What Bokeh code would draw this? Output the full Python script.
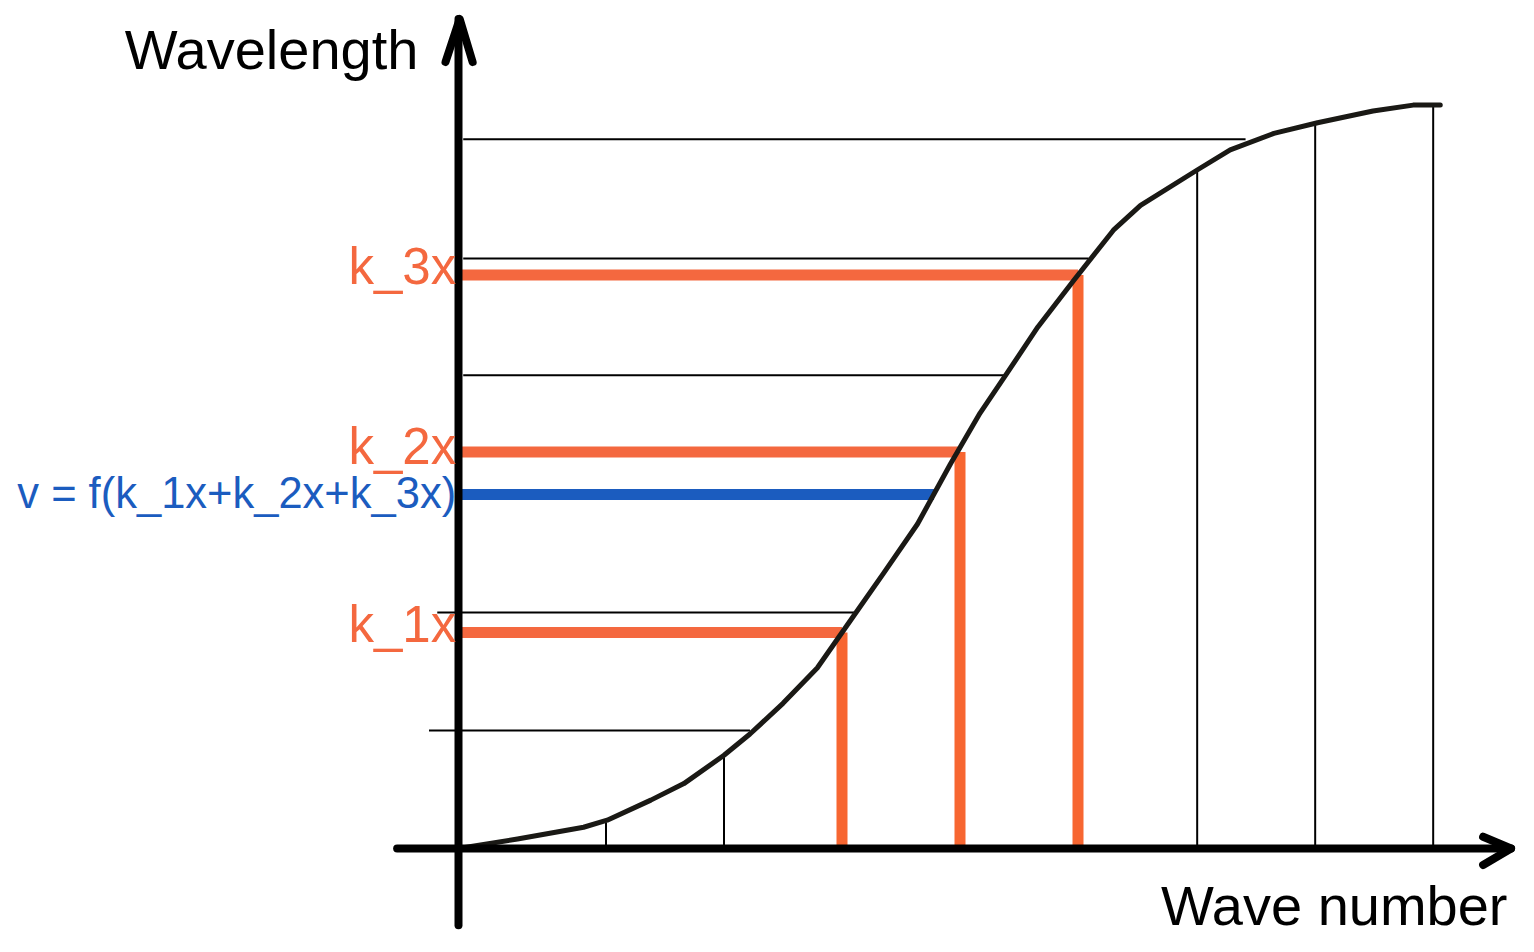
from bokeh.plotting import figure
from bokeh.models import Range1d
from bokeh.core.properties import value
from bokeh.embed import file_html
from bokeh.resources import INLINE

# ---- data (units: one grid step) ----
curve_x = [0.0, 0.50, 1.06, 1.26, 1.63, 1.91, 2.25, 2.47, 2.75, 3.04, 3.32, 3.60, 3.89,
           4.17, 4.42, 4.65, 4.91, 5.21, 5.55, 5.78, 6.26, 6.54, 6.91, 7.28, 7.75, 8.09, 8.32]
curve_y = [0.0, 0.08, 0.18, 0.24, 0.41, 0.55, 0.79, 0.97, 1.23, 1.53, 1.93, 2.33, 2.75,
           3.26, 3.69, 4.03, 4.42, 4.81, 5.24, 5.45, 5.75, 5.92, 6.06, 6.15, 6.25, 6.30, 6.30]

grid_v_x = [1.25, 2.25, 6.26, 7.26, 8.26]
grid_v_top = [0.22, 0.79, 5.75, 6.15, 6.30]

grid_h_y = [1.0, 2.0, 4.01, 5.0, 6.01]
grid_h_x0 = [-0.25, -0.18, 0.04, 0.04, 0.04]
grid_h_x1 = [2.47, 3.36, 4.64, 5.34, 6.67]

k_labels = ["k_1x", "k_2x", "k_3x"]
k_x = [3.25, 4.25, 5.25]
k_y = [1.83, 3.36, 4.86]
k_label_y = [1.90, 3.41, 4.93]

v_label = "v = f(k_1x+k_2x+k_3x)"
v_y = 3.0
v_x_end = 4.03
v_label_y = 3.01

x_axis_span = [-0.52, 8.92]
y_axis_span = [-0.65, 7.03]

x_title = "Wave number"
y_title = "Wavelength"

ORANGE_H = "#F4683F"
ORANGE_V = "#F76631"
BLUE = "#1B5CBF"
INK = "#1A1915"

p = figure(width=1518, height=936, output_backend="svg", toolbar_location=None,
           x_range=Range1d(-3.88136, 8.98305), y_range=Range1d(-0.74576, 7.18644),
           min_border=0, outline_line_color=None, background_fill_color="white",
           border_fill_color="white")
p.axis.visible = False
p.grid.visible = False

# thin grid lines
p.segment(x0=grid_v_x, y0=[0] * len(grid_v_x), x1=grid_v_x, y1=grid_v_top,
          line_color="black", line_width=2)
p.segment(x0=grid_h_x0, y0=grid_h_y, x1=grid_h_x1, y1=grid_h_y,
          line_color="black", line_width=2)

# orange construction lines
p.segment(x0=[0] * 3, y0=k_y, x1=k_x, y1=k_y, line_color=ORANGE_H, line_width=11)
p.segment(x0=k_x, y0=[0] * 3, x1=k_x, y1=k_y, line_color=ORANGE_V, line_width=11)

# blue line
p.segment(x0=[0], y0=[v_y], x1=[v_x_end], y1=[v_y], line_color=BLUE, line_width=11)

# curve
p.line(curve_x, curve_y, line_color=INK, line_width=5, line_cap="round", line_join="round")

# axes
p.line(x_axis_span, [0, 0], line_color="black", line_width=8, line_cap="round")
p.line([0, 0], y_axis_span, line_color="black", line_width=8, line_cap="round")
xt = x_axis_span[1]
p.line([xt - 0.237, xt, xt - 0.237], [0.10, 0, -0.14], line_color="black",
       line_width=8, line_cap="round", line_join="round")
yt = y_axis_span[1]
p.line([-0.11, 0.01, 0.12], [yt - 0.365, yt, yt - 0.365], line_color="black",
       line_width=8, line_cap="round", line_join="round")

FONT = value("Liberation Sans")

p.text(x=[-0.34], y=[6.77], text=[y_title], text_font=FONT, text_font_size="56px",
       text_color="black", text_align="right", text_baseline="alphabetic")
p.text(x=[8.89], y=[-0.48], text=[x_title], text_font=FONT, text_font_size="56px",
       text_color="black", text_align="right", text_baseline="alphabetic")
p.text(x=[-0.02] * 3, y=k_label_y, text=k_labels, text_font=FONT, text_font_size="51px",
       text_color=ORANGE_H, text_align="right", text_baseline="alphabetic")
p.text(x=[-0.02], y=[v_label_y], text=[v_label], text_font=FONT, text_font_size="43.5px",
       text_color=BLUE, text_align="right", text_baseline="alphabetic")

open("out.html", "w").write(file_html(p, INLINE))
